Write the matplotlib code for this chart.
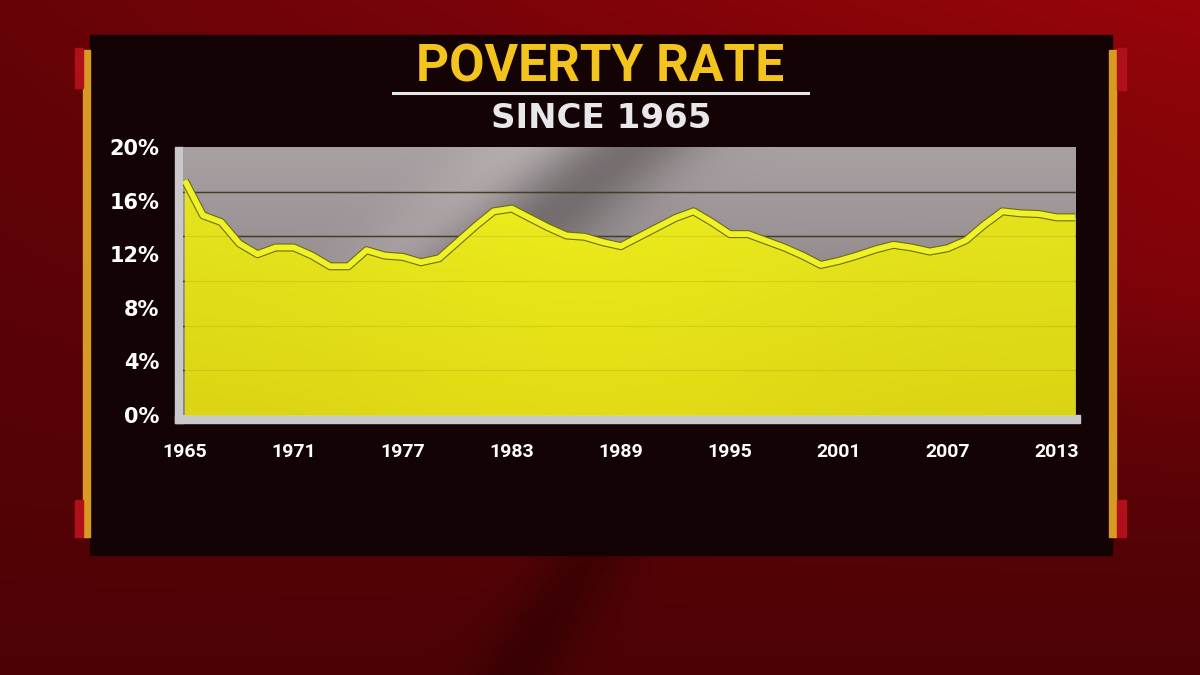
import numpy as np
import matplotlib
matplotlib.use("Agg")
import matplotlib.pyplot as plt
from matplotlib.patches import Rectangle
import matplotlib.patheffects as pe

# ---------------- data ----------------
years = list(range(1965, 2015))
poverty_rate = [17.5, 14.9, 14.4, 12.8, 12.0, 12.5, 12.5, 11.9, 11.1, 11.1,
                12.3, 11.9, 11.8, 11.4, 11.7, 12.9, 14.1, 15.2, 15.4, 14.7,
                14.0, 13.4, 13.3, 12.9, 12.6, 13.3, 14.0, 14.7, 15.2, 14.4,
                13.5, 13.5, 13.0, 12.5, 11.9, 11.2, 11.5, 11.9, 12.35, 12.7,
                12.5, 12.2, 12.45, 13.05, 14.2, 15.2, 15.05, 15.0, 14.75, 14.75]
y_ticks = [0, 4, 8, 12, 16, 20]
y_tick_labels = ["0%", "4%", "8%", "12%", "16%", "20%"]
x_ticks = [1965, 1971, 1977, 1983, 1989, 1995, 2001, 2007, 2013]
x_tick_labels = ["1965", "1971", "1977", "1983", "1989", "1995", "2001", "2007", "2013"]
title = "POVERTY RATE"
subtitle = "SINCE 1965"

W, H = 1200, 675
fig = plt.figure(figsize=(W / 100, H / 100), dpi=100)

# ---------------- background (pixel coordinates) ----------------
bg = fig.add_axes([0, 0, 1, 1])
bg.set_xlim(0, W)
bg.set_ylim(H, 0)
bg.axis("off")

gx, gy = np.meshgrid(np.linspace(0, 1, 300), np.linspace(0, 1, 170))
r = 0.30 + 0.10 * (1 - gy) + 0.20 * gx * (1 - gy) ** 1.5 \
    + 0.05 * np.exp(-((gx - 0.97) ** 2 + (gy - 0.4) ** 2) / 0.03)
r = r - 0.08 * np.exp(-((gx + 0.35 * gy) - 0.78) ** 2 / 0.0015) * (gy > 0.8)
r = np.clip(r, 0.15, 0.75)
rgb = np.dstack([r, r * 0.03, r * 0.07])
bg.imshow(rgb, extent=(0, W, H, 0), aspect="auto", zorder=0)

# dark panel
bg.add_patch(Rectangle((90, 35), 1022, 520, color="#140305", zorder=1))
# gold side bars
bg.add_patch(Rectangle((83, 50), 7, 487, color="#d99a22", zorder=2))
bg.add_patch(Rectangle((1109, 50), 7, 487, color="#d99a22", zorder=2))
# red tabs
for (x0, y0, w, h) in [(75, 48, 8, 40), (75, 500, 8, 37), (1117, 48, 9, 42), (1117, 500, 9, 37)]:
    bg.add_patch(Rectangle((x0, y0), w, h, color="#b0101a", zorder=2))

# silver frame of plot (left and bottom)
bg.add_patch(Rectangle((175, 147), 8, 276, color="#c9c9cc", zorder=2))
bg.add_patch(Rectangle((175, 415), 905, 8, color="#c9c9cc", zorder=2))

# titles
bg.text(600, 67, title, ha="center", va="center", color="#f4c41e",
        fontsize=37, fontweight="bold", family="Roboto", zorder=3)
bg.plot([393, 808], [93, 93], color="#e6e6e6", lw=2.2, zorder=3)
bg.text(601, 118, subtitle, ha="center", va="center", color="#e8e8ea",
        fontsize=24.5, fontweight="bold", family="DejaVu Sans", zorder=3)

# ---------------- chart axes ----------------
ax = fig.add_axes([183 / W, (H - 415) / H, 893 / W, 268 / H])
ax.set_zorder(3)
x0, x1 = 1964.9, 2014.05
ax.set_xlim(x0, x1)
ax.set_ylim(0, 20)

# grey gradient backdrop with diagonal sheen
u, v = np.meshgrid(np.linspace(0, 1, 400), np.linspace(1, 0, 200))  # v: 1 top, 0 bottom
g = 0.66 - 0.16 * (1 - v)
d = u + 0.35 * (1 - v)
g = g + 0.06 * np.exp(-(d - 0.38) ** 2 / 0.004)
g = g - 0.20 * np.exp(-(d - 0.50) ** 2 / 0.006) * (0.4 + 0.6 * v)
g = g - 0.12 * np.exp(-((u - 0.82) ** 2) / 0.03 - ((v - 0.30) ** 2) / 0.04)
g = np.clip(g, 0.25, 0.75)
grey = np.dstack([g, g * 0.95, g * 0.96])
ax.imshow(grey, extent=(x0, x1, 0, 20), aspect="auto", zorder=0)

grid_levels = [20 / 6 * k for k in range(1, 6)]
for lv in grid_levels:
    ax.axhline(lv, color="#262022", lw=1.0, zorder=1)

# yellow area
poly = ax.fill_between(years, poverty_rate, 0, color="#e0e61e", lw=0, zorder=2)
yy = np.linspace(1, 0, 200)[:, None] * np.ones((1, 400))
xx = np.ones((200, 1)) * np.linspace(0, 1, 400)[None, :]
ry = 0.86 + 0.04 * yy + 0.03 * np.exp(-((xx - 0.45) ** 2) / 0.08)
gy_ = 0.83 + 0.08 * yy + 0.03 * np.exp(-((xx - 0.45) ** 2) / 0.08)
by = 0.08 + 0.04 * yy
yellow = np.clip(np.dstack([ry, gy_, by]), 0, 1)
img = ax.imshow(yellow, extent=(x0, x1, 0, 20), aspect="auto", zorder=2.1)
img.set_clip_path(poly.get_paths()[0], transform=ax.transData)

for lv in grid_levels:
    ax.axhline(lv, color="#9a9a10", lw=0.8, alpha=0.25, zorder=2.5)

# line (tube look)
ax.plot(years, poverty_rate, color="#eef226", lw=4.2, zorder=4,
        solid_joinstyle="round", solid_capstyle="butt",
        path_effects=[pe.Stroke(linewidth=5.8, foreground="#6e6c10"),
                      pe.Normal()])

for s in ax.spines.values():
    s.set_visible(False)

ax.set_yticks(y_ticks)
ax.set_yticklabels(y_tick_labels)
ax.set_xticks(x_ticks)
ax.set_xticklabels(x_tick_labels)
ax.tick_params(axis="both", length=0)
ax.tick_params(axis="y", pad=17)
ax.tick_params(axis="x", pad=20)
for lab in ax.get_yticklabels():
    lab.set_color("white")
    lab.set_fontsize(15)
    lab.set_fontweight("bold")
    lab.set_family("DejaVu Sans")
for lab in ax.get_xticklabels():
    lab.set_color("white")
    lab.set_fontsize(14)
    lab.set_fontweight("bold")
    lab.set_family("Roboto")

fig.savefig("out.png", dpi=100)
